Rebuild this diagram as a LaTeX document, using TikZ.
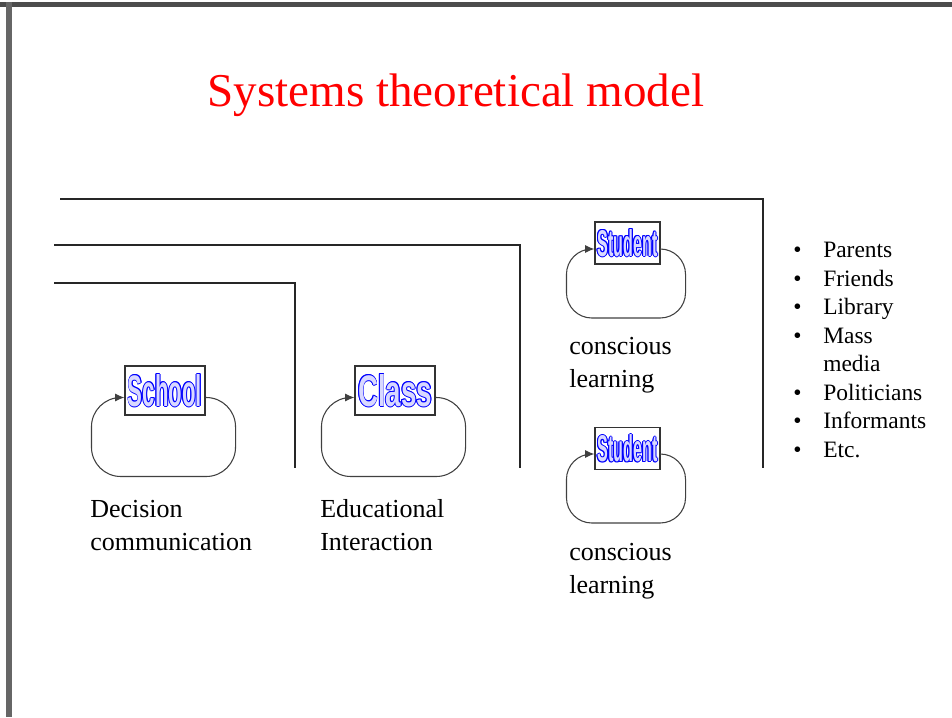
\documentclass[tikz,border=0pt]{standalone}
\usepackage{fontspec}
\setmainfont{Liberation Serif}
\newfontfamily\wordartfont{Liberation Sans}
\usetikzlibrary{calc,arrows.meta}

% outlined blue word, squeezed to a given width and height
\newcommand\bluewordbody[3]{\resizebox{#2}{#3}{\wordartfont\bfseries #1}}
\newcommand\blueword[3]{%
  \leavevmode
  \rlap{\color{blue}\hspace{0.7pt}\bluewordbody{#1}{#2}{#3}}%
  \rlap{\color{blue}\hspace{-0.7pt}\bluewordbody{#1}{#2}{#3}}%
  \rlap{\color{blue}\raisebox{0.7pt}{\bluewordbody{#1}{#2}{#3}}}%
  \rlap{\color{blue}\raisebox{-0.7pt}{\bluewordbody{#1}{#2}{#3}}}%
  \rlap{\color{blue}\hspace{0.5pt}\raisebox{0.5pt}{\bluewordbody{#1}{#2}{#3}}}%
  \rlap{\color{blue}\hspace{-0.5pt}\raisebox{0.5pt}{\bluewordbody{#1}{#2}{#3}}}%
  \rlap{\color{blue}\hspace{0.5pt}\raisebox{-0.5pt}{\bluewordbody{#1}{#2}{#3}}}%
  \rlap{\color{blue}\hspace{-0.5pt}\raisebox{-0.5pt}{\bluewordbody{#1}{#2}{#3}}}%
  {\color{blue!15}\bluewordbody{#1}{#2}{#3}}}

\tikzset{
  wordbox/.style={draw=black!80, fill=white, line width=0.8pt, inner sep=0pt},
  loopline/.style={draw=black!75, line width=0.8pt, rounded corners=#1,
    -{Latex[length=7pt,width=6pt]}},
  loopline/.default=22pt,
  levelline/.style={draw=black!85, line width=0.8pt},
  caption/.style={anchor=base west, align=left, inner sep=0pt,
    font=\fontsize{19.5}{24.5}\selectfont},
  heading/.style={anchor=base, text=red, inner sep=0pt,
    font=\fontsize{35.3}{42}\selectfont},
}

\begin{document}
\begin{tikzpicture}[x=0.75pt,y=-0.75pt]
	\useasboundingbox (0,0) rectangle (952,717);
	% slide frame
	\fill[black!70] (0,2) rectangle (952,7);
	\fill[black!60] (6,2) rectangle (12,717);

	\node[heading] (title) at (456,106) {Systems theoretical model};

	% system boundaries
	\draw[levelline] (60,199) -| (763,468);
	\draw[levelline] (54,245) -| (520,468);
	\draw[levelline] (54,283) -| (295,468);

	% self-referential systems
	\node (school) at (165,390.5) [wordbox, minimum width=60pt, minimum height=36.75pt]
		{\blueword{School}{55.5pt}{24pt}};
	\node (class) at (395,390.5) [wordbox, minimum width=60pt, minimum height=36.75pt]
		{\blueword{Class}{55.5pt}{24pt}};
	\node (studentA) at (627.5,243) [wordbox, minimum width=48.75pt, minimum height=31.5pt]
		{\blueword{Student}{45pt}{20.25pt}};
	\node (studentB) at (627.5,448.5) [wordbox, minimum width=48.75pt, minimum height=31.5pt]
		{\blueword{Student}{45pt}{20.25pt}};

	\draw[loopline] ($(school.east)+(0,7)$) -| ++(30,79) -| ($(school.west)+(-33,7)$) -- ($(school.west)+(0,7)$);
	\draw[loopline] ($(class.east)+(0,7)$) -| ++(30,79) -| ($(class.west)+(-33,7)$) -- ($(class.west)+(0,7)$);
	\draw[loopline=19pt] ($(studentA.east)+(0,6)$) -| ++(25,69) -| ($(studentA.west)+(-28,6)$) -- ($(studentA.west)+(0,6)$);
	\draw[loopline=19pt] ($(studentB.east)+(0,5.5)$) -| ++(25,69) -| ($(studentB.west)+(-28,5.5)$) -- ($(studentB.west)+(0,5.5)$);

	\node[caption] (schoolText) at (90,550) {Decision\\communication};
	\node[caption] (classText) at (320,550) {Educational\\Interaction};
	\node[caption] (studentAText) at (569,387) {conscious\\learning};
	\node[caption] (studentBText) at (569,593) {conscious\\learning};

	% environment
	\node (environment) at (793,257.5) [anchor=base west, inner sep=0pt,
		font=\fontsize{17.6}{21.4}\selectfont]
		{\begin{tabular}[t]{@{}p{22.5pt}@{}l@{}}
			\textbullet & Parents\\
			\textbullet & Friends\\
			\textbullet & Library\\
			\textbullet & Mass\\
			 & media\\
			\textbullet & Politicians\\
			\textbullet & Informants\\
			\textbullet & Etc.
		\end{tabular}};
\end{tikzpicture}
\end{document}
